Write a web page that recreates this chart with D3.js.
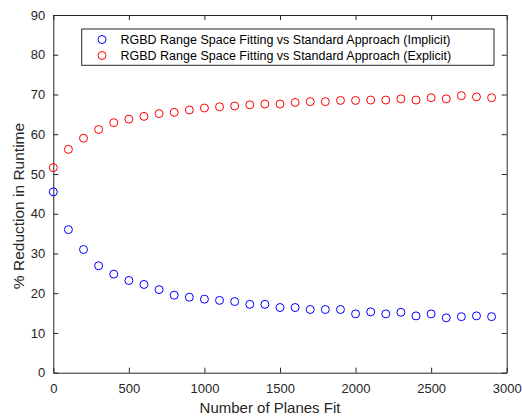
<!DOCTYPE html>
<html>
<head>
<meta charset="utf-8">
<script src="https://cdn.jsdelivr.net/npm/d3@7"></script>
<style>
  body { margin: 0; background: #fff; }
  text { font-family: "Liberation Sans", Arial, Helvetica, sans-serif; }
</style>
</head>
<body>
<script>
// number of planes fit (x)
var planes = d3.range(0, 3000, 100);

// % reduction, implicit (blue)
var implicitVals = [45.5, 36.0, 31.0, 26.9, 24.8, 23.2, 22.2, 20.9, 19.5, 19.0,
                    18.5, 18.2, 17.9, 17.2, 17.2, 16.4, 16.4, 15.9, 15.9, 15.9,
                    14.8, 15.3, 14.8, 15.2, 14.3, 14.8, 13.8, 14.1, 14.3, 14.1];

// % reduction, explicit (red)
var explicitVals = [51.6, 56.2, 59.0, 61.2, 62.9, 63.8, 64.5, 65.2, 65.5, 66.1,
                    66.6, 66.9, 67.1, 67.4, 67.6, 67.6, 68.0, 68.2, 68.2, 68.5,
                    68.5, 68.6, 68.6, 68.9, 68.6, 69.2, 68.9, 69.7, 69.4, 69.2];

var seriesNames = ["RGBD Range Space Fitting vs Standard Approach (Implicit)",
                   "RGBD Range Space Fitting vs Standard Approach (Explicit)"];
var seriesColors = ["#0000ff", "#ff0000"];

var xTicks = [0, 500, 1000, 1500, 2000, 2500, 3000];
var yTicks = [0, 10, 20, 30, 40, 50, 60, 70, 80, 90];

var width = 522, height = 418,
    padL = 53.3, padR = 506.7, padT = 15, padB = 372.7,
    axisColor = "#262626";

var svg = d3.select("body").append("svg")
    .attr("width", width)
    .attr("height", height);

var x = d3.scaleLinear().domain([0, 3000]).range([padL, padR]);
var y = d3.scaleLinear().domain([0, 90]).range([padB, padT]);

// axes, ticks inward, box on all four sides
function styleAxis(g) {
    g.selectAll("path").attr("stroke", axisColor);
    g.selectAll("line").attr("stroke", axisColor);
    g.selectAll("text").attr("fill", axisColor).style("font-size", "13px");
}

svg.append("g")
    .attr("transform", "translate(0," + padB + ")")
    .call(d3.axisBottom(x).tickValues(xTicks).tickFormat(d3.format("d"))
        .tickSizeInner(-5).tickSizeOuter(0).tickPadding(11))
    .call(styleAxis);

svg.append("g")
    .attr("transform", "translate(0," + padT + ")")
    .call(d3.axisTop(x).tickValues(xTicks).tickSizeInner(-5).tickSizeOuter(0).tickFormat(""))
    .call(styleAxis);

svg.append("g")
    .attr("transform", "translate(" + padL + ",0)")
    .call(d3.axisLeft(y).tickValues(yTicks).tickSizeInner(-5).tickSizeOuter(0).tickPadding(8))
    .call(styleAxis);

svg.append("g")
    .attr("transform", "translate(" + padR + ",0)")
    .call(d3.axisRight(y).tickValues(yTicks).tickSizeInner(-5).tickSizeOuter(0).tickFormat(""))
    .call(styleAxis);

svg.selectAll(".domain").attr("fill", "none");

// markers
var series = [implicitVals, explicitVals];
series.forEach(function(vals, i) {
    svg.append("g").selectAll("circle")
        .data(vals)
        .enter()
        .append("circle")
        .attr("cx", function(d, j) { return x(planes[j]); })
        .attr("cy", function(d) { return y(d); })
        .attr("r", 4)
        .attr("fill", "none")
        .attr("stroke", seriesColors[i])
        .attr("stroke-width", 1);
});

// axis titles
svg.append("text")
    .attr("x", 270)
    .attr("y", 413)
    .attr("text-anchor", "middle")
    .attr("fill", axisColor)
    .style("font-size", "15px")
    .text("Number of Planes Fit");

svg.append("text")
    .attr("transform", "translate(24,206) rotate(-90)")
    .attr("text-anchor", "middle")
    .attr("fill", axisColor)
    .style("font-size", "15.5px")
    .text("% Reduction in Runtime");

// legend
var legend = svg.append("g");
legend.append("rect")
    .attr("x", 81.7)
    .attr("y", 29)
    .attr("width", 412.3)
    .attr("height", 36.3)
    .attr("fill", "#fff")
    .attr("stroke", axisColor)
    .attr("stroke-width", 1);

seriesNames.forEach(function(name, i) {
    var ly = 39.5 + i * 16;
    legend.append("circle")
        .attr("cx", 102)
        .attr("cy", ly)
        .attr("r", 4)
        .attr("fill", "none")
        .attr("stroke", seriesColors[i]);
    legend.append("text")
        .attr("x", 120.5)
        .attr("y", ly + 4.5)
        .attr("fill", "#000")
        .style("font-size", "12.5px")
        .text(name);
});
</script>
</body>
</html>
